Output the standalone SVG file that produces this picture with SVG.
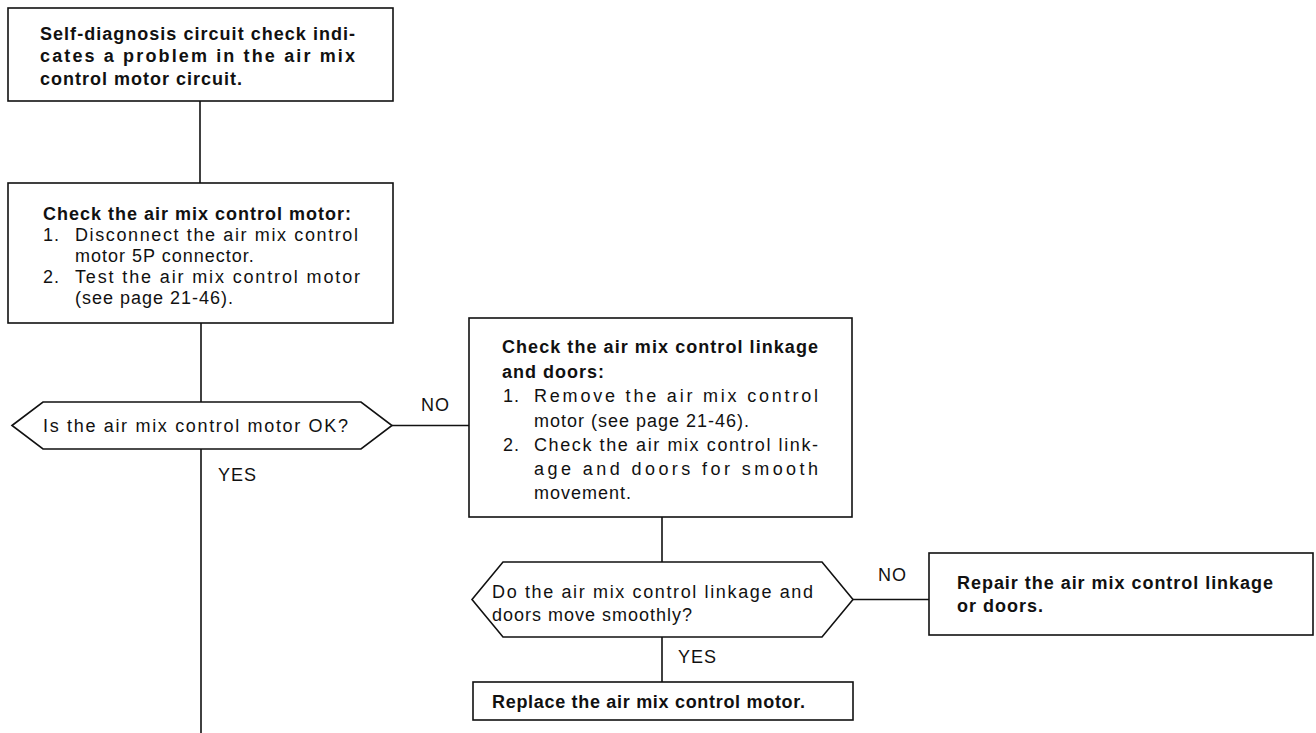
<svg xmlns="http://www.w3.org/2000/svg" width="1316" height="733" viewBox="0 0 1316 733">
<style>
.box{fill:#fff;stroke:#111;stroke-width:1.6}
.ln{fill:none;stroke:#111;stroke-width:1.6}
text{font-family:"Liberation Sans",Arial,Helvetica,sans-serif;font-size:18px;fill:#111}
.b{font-weight:bold}
.ls{letter-spacing:1px}
</style>
<rect width="1316" height="733" fill="#fff"/>
<g id="connectors">
<path class="ln" d="M200,101 V183"/>
<path class="ln" d="M201,323 V402"/>
<path class="ln" d="M201,449 V733"/>
<path class="ln" d="M392,425.5 H469"/>
<path class="ln" d="M662,517 V562"/>
<path class="ln" d="M853,599.5 H929"/>
<path class="ln" d="M662,637 V682"/>
<text x="421" y="411" class="ls">NO</text>
<text x="218" y="481" class="ls">YES</text>
<text x="878" y="581" class="ls">NO</text>
<text x="678" y="663" class="ls">YES</text>
</g>
<g id="n1">
<rect class="box" x="8" y="8" width="385" height="93"/>
<text class="b" x="40" y="39.5" textLength="315">Self-diagnosis circuit check indi-</text>
<text class="b" x="40" y="62" textLength="315">cates a problem in the air mix</text>
<text class="b ls" x="40" y="84.5">control motor circuit.</text>
</g>
<g id="n2">
<rect class="box" x="8" y="183" width="385" height="140"/>
<text class="b ls" x="43" y="219.5">Check the air mix control motor:</text>
<text class="ls" x="43" y="240.5">1.</text>
<text x="75" y="240.5" textLength="283">Disconnect the air mix control</text>
<text class="ls" x="75" y="261.5">motor 5P connector.</text>
<text class="ls" x="43" y="282.5">2.</text>
<text x="75" y="282.5" textLength="285">Test the air mix control motor</text>
<text class="ls" x="75" y="303.5">(see page 21-46).</text>
</g>
<g id="d1">
<polygon class="box" points="12,425.5 43,402 361,402 392,425.5 361,449 43,449"/>
<text x="43" y="432" textLength="305">Is the air mix control motor OK?</text>
</g>
<g id="n3">
<rect class="box" x="469" y="318" width="383" height="199"/>
<text class="b" x="502" y="353" textLength="316">Check the air mix control linkage</text>
<text class="b ls" x="502" y="378">and doors:</text>
<text class="ls" x="503" y="402">1.</text>
<text x="534" y="402" textLength="284">Remove the air mix control</text>
<text class="ls" x="534" y="427">motor (see page 21-46).</text>
<text class="ls" x="503" y="451">2.</text>
<text x="534" y="451" textLength="284">Check the air mix control link-</text>
<text x="534" y="475" textLength="284">age and doors for smooth</text>
<text class="ls" x="534" y="499">movement.</text>
</g>
<g id="d2">
<polygon class="box" points="472,599.5 503,562 822,562 853,599.5 822,637 503,637"/>
<text x="492" y="598" textLength="321">Do the air mix control linkage and</text>
<text class="ls" x="492" y="621">doors move smoothly?</text>
</g>
<g id="n4">
<rect class="box" x="473" y="682" width="380" height="38"/>
<text class="b" x="492" y="708" textLength="313">Replace the air mix control motor.</text>
</g>
<g id="n5">
<rect class="box" x="929" y="553" width="384" height="82"/>
<text class="b" x="957" y="589" textLength="316">Repair the air mix control linkage</text>
<text class="b ls" x="957" y="612">or doors.</text>
</g>
</svg>
